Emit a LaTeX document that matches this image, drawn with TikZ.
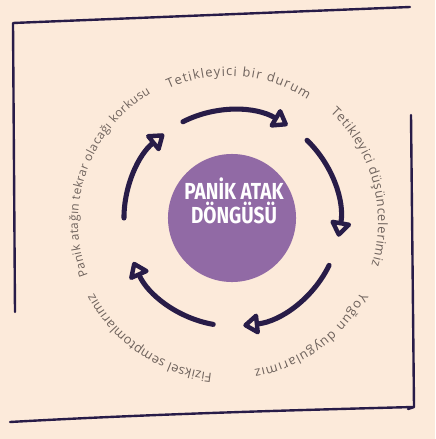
\documentclass[tikz,border=0pt]{standalone}
\usepackage{fontspec}
\setmainfont{Open Sans}
\newfontfamily\titlefont[FakeStretch=0.82]{Fira Sans}
\usetikzlibrary{arrows.meta,decorations.text}
\definecolor{bgpeach}{HTML}{FCEADA}
\definecolor{inkblue}{HTML}{281C48}
\definecolor{cyclepurple}{HTML}{916AA5}
\definecolor{labelgray}{HTML}{6E625C}
\newcommand{\labelfont}{\fontsize{9.2}{10}\selectfont\color{labelgray}}
\newcommand{\smalllabelfont}{\fontsize{8.5}{10}\selectfont\color{labelgray}}

\begin{document}
\begin{tikzpicture}[x=0.025cm, y=0.025cm,
    frameline/.style={draw=inkblue, line width=1.7pt, line cap=round, line join=round},
    cyclearrow/.style={draw=inkblue, line width=3.6pt, line cap=round,
      -{Triangle[open, length=12.5pt, width=17pt, line join=round]}},
    corecircle/.style={circle, fill=cyclepurple, minimum size=3.2cm, inner sep=0pt},
    titletext/.style={text=white, align=center, font=\titlefont\bfseries\fontsize{16.5}{17.5}\selectfont},
    arclabel/.style={decorate, decoration={text along path, text align={fit to path}, text={|\labelfont|#1}}},
    smallarclabel/.style={decorate, decoration={text along path, text align={fit to path}, text={|\smalllabelfont|#1}}}
  ]
  % background and hand drawn frame
  \fill[bgpeach] (0,0) rectangle (435,-439);
  \draw[frameline] (15,-312) -- (13,-23) -- (410,-7);
  \draw[frameline] (411,-115) -- (414,-407) -- (408,-409);
  \draw[frameline] (10,-422) .. controls (150,-414) and (300,-410) .. (413,-407);

  % cycle arrows and centre
  \begin{scope}[shift={(232,-218)}]
    \node[corecircle] (core) at (0,0) {};
    \node[titletext] (title) at (2,17) {PANİK ATAK\\DÖNGÜSÜ};
    \coordinate (a1) at (117:2.7cm);
    \coordinate (a2) at (46:2.7cm);
    \coordinate (a3) at (-26:2.7cm);
    \coordinate (a4) at (-100:2.7cm);
    \coordinate (a5) at (180:2.7cm);
    \draw[cyclearrow] (a1) arc[start angle=117, end angle=59, radius=2.7cm];
    \draw[cyclearrow] (a2) arc[start angle=46, end angle=-10, radius=2.7cm];
    \draw[cyclearrow] (a3) arc[start angle=-26, end angle=-84, radius=2.7cm];
    \draw[cyclearrow] (a4) arc[start angle=-100, end angle=-156, radius=2.7cm];
    \draw[cyclearrow] (a5) arc[start angle=180, end angle=129, radius=2.7cm];
  \end{scope}

  % curved labels
  \begin{scope}[shift={(228,-222)}]
    \path[arclabel={Tetikleyici bir durum}] (114:3.65cm) arc[start angle=114, end angle=57, radius=3.65cm];
    \path[arclabel={Tetikleyici düşüncelerimiz}] (47:3.75cm) arc[start angle=47, end angle=-17, radius=3.75cm];
    \path[arclabel={Yoğun duygularımız}] (-28:3.75cm) arc[start angle=-28, end angle=-80, radius=3.75cm];
    \path[arclabel={Fiziksel semptomlarımız}] (-96:3.8cm) arc[start angle=-96, end angle=-152, radius=3.8cm];
    \path[smallarclabel={Panik atağın tekrar olacağı korkusu}] (201:3.75cm) arc[start angle=201, end angle=121, radius=3.75cm];
  \end{scope}
\end{tikzpicture}
\end{document}
